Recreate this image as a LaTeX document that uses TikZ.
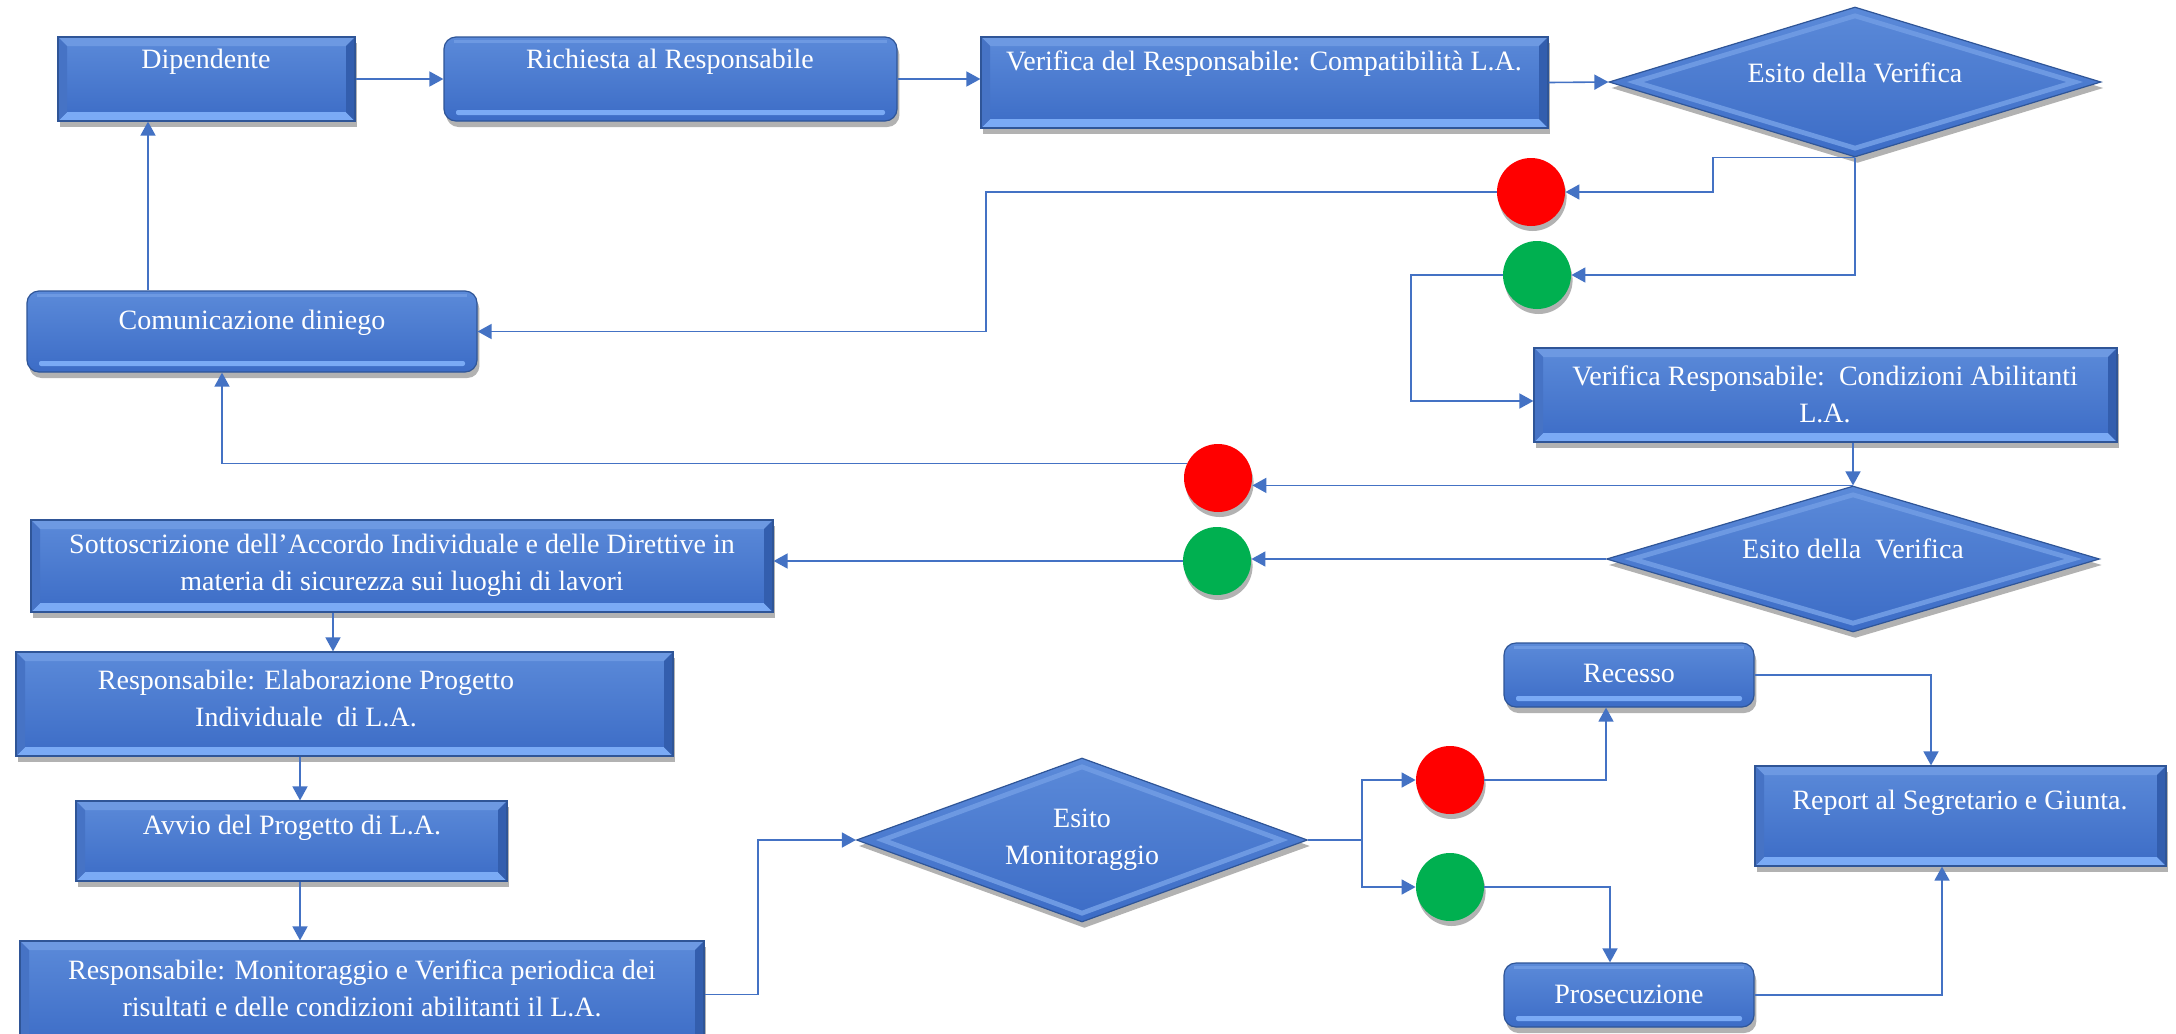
\documentclass[tikz,border=0pt]{standalone}
\usepackage{fontspec}
\setmainfont{Liberation Serif}
\usetikzlibrary{shapes.geometric,arrows.meta,shadows,fit,calc}
\definecolor{boxtop}{HTML}{5B8AD9}
\definecolor{boxbot}{HTML}{3C6CC6}
\definecolor{bevline}{HTML}{2F5597}
\definecolor{bevtopc}{HTML}{6D99E2}
\definecolor{bevbotc}{HTML}{7AAAF5}
\definecolor{bevleft}{HTML}{4673C5}
\definecolor{bevright}{HTML}{335EAE}
\definecolor{connc}{HTML}{4472C4}
\definecolor{redc}{HTML}{FF0000}
\definecolor{greenc}{HTML}{00B050}
\tikzset{
  shad/.style={drop shadow={shadow xshift=1.2pt, shadow yshift=-3pt, opacity=0.3, fill=black}},
  bev/.style={shad, draw=bevline, line width=0.6pt, top color=boxtop, bottom color=boxbot, inner sep=0pt,
    path picture={
      \fill[bevtopc] (path picture bounding box.north west) -- (path picture bounding box.north east)
        -- ([shift={(-4.5pt,-4.5pt)}]path picture bounding box.north east) -- ([shift={(4.5pt,-4.5pt)}]path picture bounding box.north west) -- cycle;
      \fill[bevbotc] (path picture bounding box.south west) -- (path picture bounding box.south east)
        -- ([shift={(-4.5pt,4.5pt)}]path picture bounding box.south east) -- ([shift={(4.5pt,4.5pt)}]path picture bounding box.south west) -- cycle;
      \fill[bevleft] (path picture bounding box.north west) -- ([shift={(4.5pt,-4.5pt)}]path picture bounding box.north west)
        -- ([shift={(4.5pt,4.5pt)}]path picture bounding box.south west) -- (path picture bounding box.south west) -- cycle;
      \fill[bevright] (path picture bounding box.north east) -- ([shift={(-4.5pt,-4.5pt)}]path picture bounding box.north east)
        -- ([shift={(-4.5pt,4.5pt)}]path picture bounding box.south east) -- (path picture bounding box.south east) -- cycle;
    }},
  rbox/.style={shad, draw=bevline, line width=0.6pt, rounded corners=6pt, top color=boxtop, bottom color=boxbot, inner sep=0pt,
    path picture={
      \fill[bevbotc, rounded corners=1pt] ([shift={(6pt,3pt)}]path picture bounding box.south west) rectangle ([shift={(-6pt,5.5pt)}]path picture bounding box.south east);
      \draw[bevtopc, line width=1.6pt] ([shift={(5pt,-2.2pt)}]path picture bounding box.north west) -- ([shift={(-5pt,-2.2pt)}]path picture bounding box.north east);
    }},
  dia/.style={shad, diamond, draw=bevline, line width=0.6pt, top color=boxtop, bottom color=boxbot, inner sep=0pt,
    path picture={
      \draw[bevtopc, line width=2.4pt, line join=miter]
        ([yshift=-4.3pt]path picture bounding box.north) -- ([xshift=-13pt]path picture bounding box.east)
        -- ([yshift=4.3pt]path picture bounding box.south) -- ([xshift=13pt]path picture bounding box.west) -- cycle;
    }},
  circ/.style={circle, minimum size=34pt, inner sep=0pt, drop shadow={shadow xshift=0.8pt, shadow yshift=-2.5pt, opacity=0.3, fill=black}},
  txt/.style={text=white, font=\fontsize{14pt}{18.5pt}\selectfont, align=center, inner sep=0pt},
  arr/.style={draw=connc, line width=0.8pt, -{Triangle[length=7pt,width=7.5pt]}}
}
\begin{document}
\begin{tikzpicture}[x=0.5pt,y=-0.5pt]
\useasboundingbox[fill=white] (0,0) rectangle (2176,1034);

% boxes
\node[bev, fit={(58,37) (355,121)}] (dip) {};
\node[txt] (tdip) at (206,62) {Dipendente};
\node[rbox, fit={(444,37) (897,121)}] (rich) {};
\node[txt] (trich) at (670,62) {Richiesta al Responsabile};
\node[bev, fit={(981,37) (1548,128)}] (comp) {};
\node[txt] (tcomp) at (1264,64) {Verifica del Responsabile: Compatibilità L.A.};
\node[dia, minimum width=246pt, minimum height=75pt] (d1) at (1855,82) {};
\node[txt] (td1) at (1855,73) {Esito della Verifica};
\node[circ, fill=redc] (r1) at (1531,192) {};
\node[circ, fill=greenc] (g1) at (1537,275) {};
\node[bev, fit={(1534,348) (2117,442)}] (vcond) {};
\node[txt] (tvcond) at (1825,394) {Verifica Responsabile:\ \ Condizioni Abilitanti\\L.A.};
\node[rbox, fit={(27,291) (477,372)}] (comm) {};
\node[txt] (tcomm) at (252,323) {Comunicazione diniego};
\node[circ, fill=redc] (r2) at (1218,478) {};
\node[circ, fill=greenc] (g2) at (1217,561) {};
\node[dia, minimum width=246.5pt, minimum height=73pt] (d2) at (1853,559) {};
\node[txt] (td2) at (1853,549) {Esito della\ \ Verifica};
\node[bev, fit={(31,520) (773,612)}] (sott) {};
\node[txt] (tsott) at (402,565) {Sottoscrizione dell’Accordo Individuale e delle Direttive in\\materia di sicurezza sui luoghi di lavori};
\node[bev, fit={(16,652) (673,756)}] (elab) {};
\node[txt] (telab) at (306,698) {Responsabile: Elaborazione Progetto\\Individuale\ \ di L.A.};
\node[bev, fit={(76,801) (507,881)}] (avvio) {};
\node[txt] (tavvio) at (292,828) {Avvio del Progetto di L.A.};
\node[bev, fit={(20,941) (704,1048)}] (mon) {};
\node[txt] (tmon) at (362,988) {Responsabile: Monitoraggio e Verifica periodica dei\\risultati e delle condizioni abilitanti il L.A.};
\node[dia, minimum width=225.5pt, minimum height=82pt] (dm) at (1082,840) {};
\node[txt] (tdm) at (1082,840) {Esito\\Monitoraggio};
\node[circ, fill=redc] (r3) at (1450,780) {};
\node[circ, fill=greenc] (g3) at (1450,887) {};
\node[rbox, fit={(1504,643) (1754,707)}] (rec) {};
\node[txt] (trec) at (1629,673) {Recesso};
\node[bev, fit={(1755,766) (2166,866)}] (rep) {};
\node[txt] (trep) at (1960,803) {Report al Segretario e Giunta.};
\node[rbox, fit={(1504,963) (1754,1027)}] (pros) {};
\node[txt] (tpros) at (1629,994) {Prosecuzione};

% helper coordinates
\coordinate (k1) at (1713,157);
\coordinate (k2) at (986,0);
\coordinate (k3) at (148,0);
\coordinate (k4) at (1411,0);
\coordinate (k5) at (222,0);
\coordinate (k6) at (333,0);
\coordinate (k7) at (300,0);
\coordinate (k8) at (758,0);
\coordinate (k9) at (1362,0);
\coordinate (k10) at (1606,0);
\coordinate (k11) at (1610,0);
\coordinate (k12) at (1931,0);
\coordinate (k13) at (1942,0);

% connectors
\draw[arr] (dip.east) -- (rich.west);
\draw[arr] (rich.east) -- (rich.east -| comp.west);
\draw[arr] (comp.east) -- (d1.west);
\draw[arr] (d1.south) -- (d1.south -| k1) |- (r1.east);
\draw[arr] (d1.south) |- (g1.east);
\draw[arr] (r1.west) -- (r1.west -| k2) |- (comm.east);
\draw[arr] (comm.north -| k3) -- (dip.south -| k3);
\draw[arr] (g1.west) -- (g1.west -| k4) |- ([yshift=-3pt]vcond.west);
\draw[arr] (vcond.south -| d2.north) -- (d2.north);
\draw[arr] (d2.north) -- (d2.north -| r2.east);
\draw[arr] (d2.west) -- (d2.west -| g2.east);
\draw[arr] (g2.west) -- (g2.west -| sott.east);
\draw[arr] (r2.155) -| (comm.south -| k5);
\draw[arr] (sott.south -| k6) -- (elab.north -| k6);
\draw[arr] (elab.south -| k7) -- (avvio.north -| k7);
\draw[arr] (avvio.south -| k7) -- (mon.north -| k7);
\draw[arr] (mon.east) -- (mon.east -| k8) |- (dm.west);
\draw[arr] (dm.east) -- (dm.east -| k9) |- (r3.west);
\draw[arr] (dm.east -| k9) |- (g3.west);
\draw[arr] (r3.east) -| (rec.south -| k10);
\draw[arr] (g3.east) -| (pros.north -| k11);
\draw[arr] (rec.east) -| (rep.north -| k12);
\draw[arr] (pros.east) -| (rep.south -| k13);
\end{tikzpicture}
\end{document}
